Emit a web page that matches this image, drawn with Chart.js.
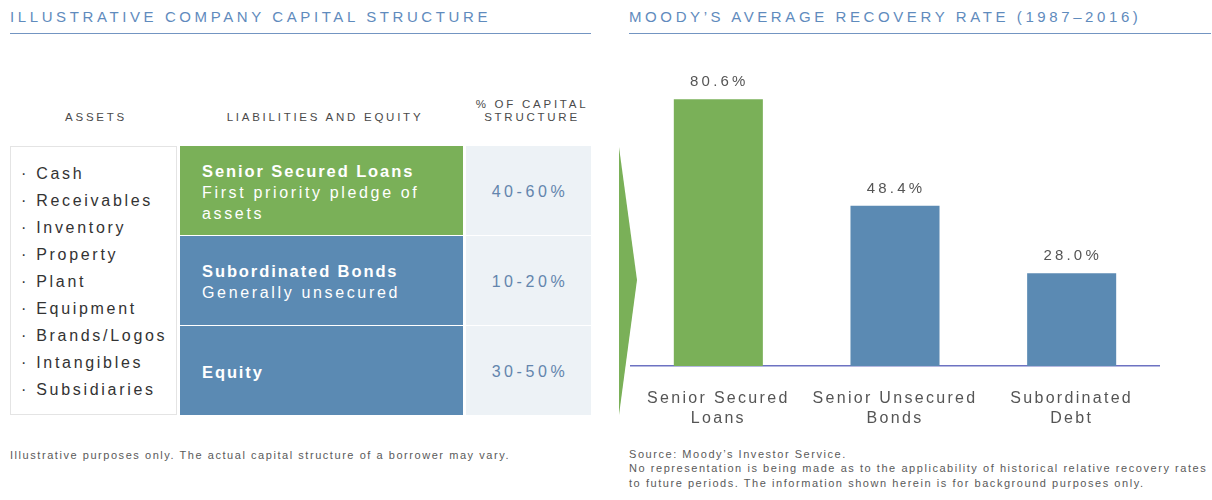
<!DOCTYPE html>
<html>
<head>
<meta charset="utf-8">
<script src="https://cdn.jsdelivr.net/npm/chart.js@4.4.1/dist/chart.umd.min.js"></script>
<style>
  html, body { margin:0; padding:0; background:#fff; }
  body { width:1212px; height:500px; position:relative; overflow:hidden; font-family:"Liberation Sans", Arial, sans-serif; }
  .abs { position:absolute; }
  .title { color:#5f8bbd; font-size:15px; letter-spacing:3.6px; line-height:20px; white-space:nowrap; }
  .rule { height:1px; background:#7395c2; }
  .hdr { color:#4a4a4a; font-size:11.5px; letter-spacing:2.75px; line-height:13.5px; text-align:center; white-space:nowrap; }
  .assets { border:1px solid #e4e4e4; box-sizing:border-box; }
  .asset { color:#333; font-size:16px; letter-spacing:2.7px; line-height:27px; white-space:nowrap; }
  .box { color:#fff; box-sizing:border-box; }
  .boxtxt { position:absolute; left:22px; font-size:16px; letter-spacing:2.65px; line-height:21px; white-space:nowrap; }
  .boxtxt b { font-size:16.5px; letter-spacing:1.9px; }
  .pct { background:#edf2f6; color:#6385ad; font-size:16px; letter-spacing:3.6px; display:flex; align-items:center; justify-content:center; padding-left:3px; padding-top:3px; box-sizing:border-box; }
  .note { color:#5a5a5a; font-size:11px; letter-spacing:1.55px; line-height:14.5px; white-space:nowrap; }
</style>
</head>
<body>
<script>
// ---- data ----
const categories = [["Senior Secured", "Loans"], ["Senior Unsecured", "Bonds"], ["Subordinated", "Debt"]];
const recoveryRates = [80.6, 48.4, 28.0];
const assetItems = ["Cash", "Receivables", "Inventory", "Property", "Plant", "Equipment", "Brands/Logos", "Intangibles", "Subsidiaries"];
const liabilityTitles = ["Senior Secured Loans", "Subordinated Bonds", "Equity"];
const liabilityNotes = [["First priority pledge of", "assets"], ["Generally unsecured"], []];
const capitalShares = ["40-60%", "10-20%", "30-50%"];
</script>

<div class="abs title" style="left:10px; top:7px;">ILLUSTRATIVE COMPANY CAPITAL STRUCTURE</div>
<div class="abs rule" style="left:10px; top:33px; width:581px;"></div>
<div class="abs title" style="left:629px; top:7px;">MOODY’S AVERAGE RECOVERY RATE (1987–2016)</div>
<div class="abs rule" style="left:629px; top:33px; width:582px;"></div>

<div class="abs hdr" style="left:46px; width:100px; top:111px;">ASSETS</div>
<div class="abs hdr" style="left:225px; width:200px; top:111px;">LIABILITIES AND EQUITY</div>
<div class="abs hdr" style="left:462px; width:140px; top:97.5px;">% OF CAPITAL<br>STRUCTURE</div>

<div class="abs assets" style="left:10px; top:146px; width:167px; height:269px;"></div>
<div id="assetList" class="abs" style="left:21px; top:159.5px;"></div>
<div id="liab"></div>

<svg class="abs" style="left:0; top:0;" width="1212" height="500">
  <polygon points="619,147 637,280 619,415" fill="#7ab058"/>
</svg>

<div class="abs" style="left:630px; top:35px; width:530px; height:401px;">
  <canvas id="c" width="530" height="401" style="width:530px; height:401px;"></canvas>
</div>

<div class="abs note" style="left:10px; top:447.5px;">Illustrative purposes only. The actual capital structure of a borrower may vary.</div>
<div class="abs note" style="left:629px; top:446.5px;">Source: Moody’s Investor Service.<br>No representation is being made as to the applicability of historical relative recovery rates<br>to future periods. The information shown herein is for background purposes only.</div>

<script>
// build left table from arrays
const list = document.getElementById('assetList');
assetItems.forEach(t => {
  const d = document.createElement('div');
  d.className = 'asset';
  d.textContent = '· ' + t;
  list.appendChild(d);
});
const rows = [{top:146, h:89, color:'#7ab058'}, {top:236, h:89, color:'#5b8ab3'}, {top:326, h:89, color:'#5b8ab3'}];
const liab = document.getElementById('liab');
rows.forEach((r, i) => {
  const box = document.createElement('div');
  box.className = 'abs box';
  box.style.cssText = `left:180px; top:${r.top}px; width:283px; height:${r.h}px; background:${r.color};`;
  const txt = document.createElement('div');
  txt.className = 'boxtxt';
  const firstCenter = i === 0 ? 25 : (i === 1 ? 35 : 46);
  txt.style.top = (firstCenter - 10.5) + 'px';
  txt.innerHTML = '<b>' + liabilityTitles[i] + '</b>' + liabilityNotes[i].map(n => '<br>' + n).join('');
  box.appendChild(txt);
  liab.appendChild(box);
  const p = document.createElement('div');
  p.className = 'abs pct';
  p.style.cssText += `left:466px; top:${r.top}px; width:125px; height:${r.h}px;`;
  p.textContent = capitalShares[i];
  liab.appendChild(p);
});

const valueLabels = {
  id: 'valueLabels',
  beforeDraw(chart) { chart.ctx.letterSpacing = '2.3px'; },
  afterDatasetsDraw(chart) {
    const ctx = chart.ctx;
    const meta = chart.getDatasetMeta(0);
    ctx.save();
    ctx.letterSpacing = '3.2px';
    ctx.font = '15px "Liberation Sans", Arial, sans-serif';
    ctx.fillStyle = '#555';
    ctx.textAlign = 'center';
    ctx.textBaseline = 'middle';
    meta.data.forEach((bar, i) => {
      ctx.fillText(recoveryRates[i].toFixed(1) + '%', bar.x + 1, bar.y - 17);
    });
    ctx.restore();
  }
};

new Chart(document.getElementById('c'), {
  type: 'bar',
  data: {
    labels: categories,
    datasets: [{
      data: recoveryRates,
      backgroundColor: ['#7ab058', '#5b8ab3', '#5b8ab3'],
      borderWidth: 0,
      categoryPercentage: 1,
      barPercentage: 0.504
    }]
  },
  options: {
    responsive: false,
    animation: false,
    devicePixelRatio: 1,
    layout: { padding: 0 },
    plugins: { legend: { display: false }, tooltip: { enabled: false } },
    scales: {
      y: { display: false, min: 0, max: 100 },
      x: {
        grid: { display: false },
        border: { display: true, color: '#6d72c2', width: 1.5 },
        ticks: {
          color: '#555',
          padding: 15,
          font: { family: '"Liberation Sans", Arial, sans-serif', size: 16, lineHeight: 1.25 },
          maxRotation: 0, autoSkip: false
        },
        afterFit(scale) { scale.height = 70; }
      }
    }
  },
  plugins: [valueLabels]
});
</script>
</body>
</html>
